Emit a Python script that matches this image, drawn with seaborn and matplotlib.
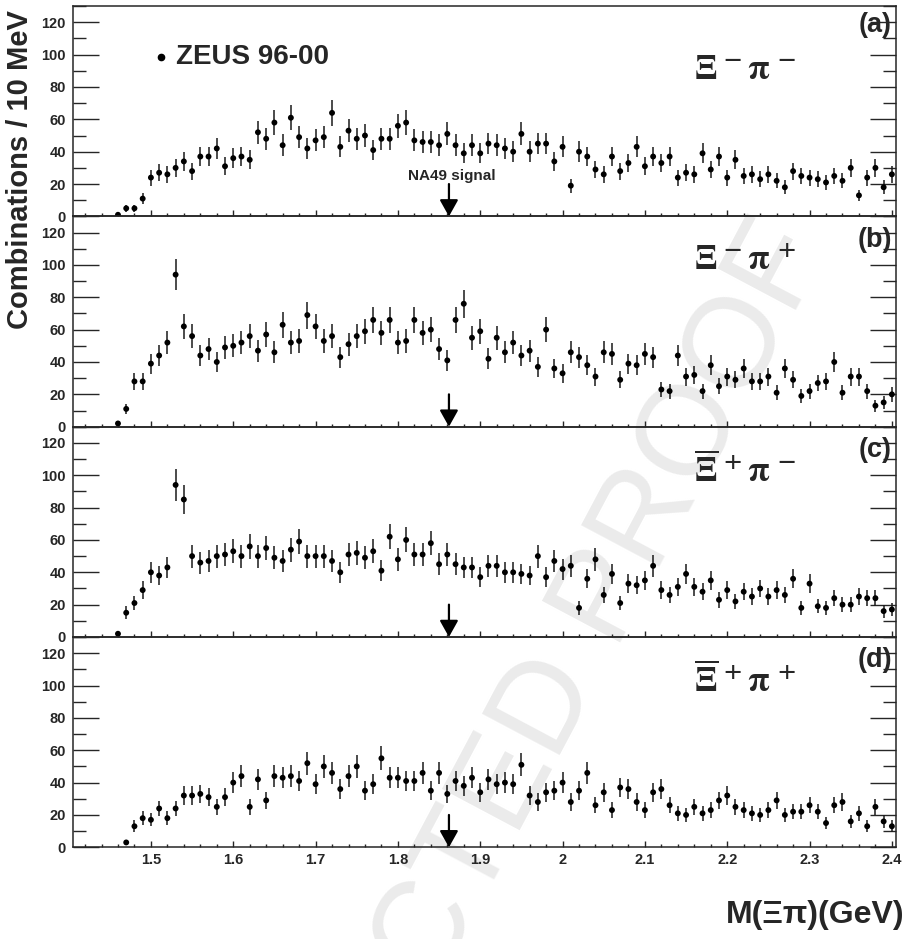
import numpy as np
import pandas as pd
import matplotlib
matplotlib.use("Agg")
import matplotlib.pyplot as plt
import seaborn as sns
from matplotlib.ticker import MultipleLocator, FuncFormatter

# ---------------- data (counts per 10 MeV bin, bin centres 1.46 ... 2.40 GeV) -------------
mass = np.round(np.arange(146, 241) / 100.0, 2)

counts_a = [1, 5, 5, 11, 24, 27, 26, 30, 34, 28, 37, 37, 42, 31, 36, 37, 35, 52, 48, 58,
            44, 61, 49, 42, 47, 49, 64, 43, 53,
            48, 50, 41, 48, 48, 56, 58, 47, 46, 46, 44, 51, 44, 39, 44, 39, 45, 44, 42, 40,
            51, 40, 45, 45, 34, 43, 19, 40, 37, 29, 26, 37, 28, 33,
            43, 31, 37, 33, 37, 24, 27, 26, 39, 29, 37, 24, 35, 25, 26, 23, 26, 22, 18, 28,
            25, 24, 23, 21, 25, 22, 30, 13, 24, 30, 18, 26]

counts_b = [2, 11, 28, 28, 39, 44, 52, 94, 62, 56, 44, 48, 40, 49, 50, 52, 56, 47, 57, 46,
            63, 52, 53, 69, 62, 53, 56, 43, 51,
            56, 59, 66, 58, 66, 52, 53, 66, 58, 60, 48, 41, 66, 76, 55, 59, 42, 55, 46, 52,
            44, 47, 37, 60, 36, 33, 46, 43, 38, 31, 46, 45, 29, 39,
            38, 45, 43, 23, 22, 44, 31, 32, 22, 38, 25, 31, 29, 36, 28, 28, 31, 21, 36, 29,
            19, 22, 27, 28, 40, 21, 31, 31, 22, 13, 15, 20]

counts_c = [2, 15, 21, 29, 40, 38, 43, 94, 85, 50, 46, 47, 50, 51, 53, 50, 56, 50, 55, 49,
            47, 54, 59, 50, 50, 50, 47, 40, 51,
            52, 49, 53, 41, 62, 48, 60, 51, 51, 58, 45, 51, 45, 43, 43, 37, 44, 44, 40, 40,
            39, 38, 50, 37, 47, 42, 44, 18, 36, 48, 26, 39, 21, 33,
            32, 35, 44, 29, 26, 31, 39, 31, 28, 35, 23, 29, 22, 28, 25, 30, 25, 29, 26, 36,
            18, 33, 19, 18, 24, 20, 20, 25, 24, 24, 16, 17]

counts_d = [np.nan, 3, 13, 18, 17, 24, 18, 24, 32, 32, 33, 31, 25, 31, 40, 44, 25, 42, 29, 44,
            43, 44, 41, 52, 39, 50, 46, 36, 44,
            50, 35, 39, 55, 43, 43, 41, 41, 46, 35, 46, 33, 41, 38, 43, 34, 42, 39, 40, 39,
            51, 32, 28, 34, 35, 40, 28, 35, 46, 26, 34, 23, 37, 36,
            28, 23, 34, 36, 26, 21, 20, 25, 21, 23, 29, 32, 25, 23, 21, 20, 23, 29, 20, 22,
            22, 26, 22, 15, 26, 28, 16, 21, 13, 25, 16, 13]

panel_tags = ["(a)", "(b)", "(c)", "(d)"]
channel_labels = [r"$\mathbf{\Xi}^{\,-}\mathrm{\pi}^{\,-}$",
                  r"$\mathbf{\Xi}^{\,-}\mathrm{\pi}^{\,+}$",
                  r"$\overline{\mathbf{\Xi}}^{\,+}\mathrm{\pi}^{\,-}$",
                  r"$\overline{\mathbf{\Xi}}^{\,+}\mathrm{\pi}^{\,+}$"]
na49_mass = 1.862
x_ticklabels_fmt = "{:g}"

# ---------------- style ----------------
sns.set_style("white")
plt.rcParams["font.family"] = ["Liberation Sans", "DejaVu Sans"]
plt.rcParams["font.weight"] = "bold"
plt.rcParams["mathtext.fontset"] = "stix"
plt.rcParams["axes.linewidth"] = 1.1

W, H = 908, 939
fig = plt.figure(figsize=(W / 100, H / 100), dpi=100)

# watermark (behind the axes)
fig.text(800 / W, 1 - 235 / H, "CORRECTED PROOF", rotation=62, rotation_mode="anchor",
         ha="right", va="center", fontsize=92, color="#ebebeb", fontweight="normal",
         zorder=-1)

left, right = 72.7 / W, 896 / W
bottom0 = (H - 847.3) / H
ph = 210.3 / H

all_counts = [counts_a, counts_b, counts_c, counts_d]
axes = []
for i, cnt in enumerate(all_counts):
    ax = fig.add_axes([left, bottom0 + (3 - i) * ph, right - left, ph])
    ax.patch.set_alpha(0)
    df = pd.DataFrame({"mass": mass, "count": np.array(cnt, dtype=float)})
    df = df.dropna()
    ax.errorbar(df["mass"], df["count"], yerr=np.sqrt(df["count"]), fmt="none",
                ecolor="#1a1a1a", elinewidth=1.1, capsize=0, zorder=2)
    sns.scatterplot(data=df, x="mass", y="count", ax=ax, color="black", s=18,
                    edgecolor="none", linewidth=0, zorder=3, legend=False)
    ax.set_xlim(1.405, 2.405)
    ax.set_ylim(0, 130)
    ax.set_xlabel("")
    ax.set_ylabel("")
    ax.xaxis.set_major_locator(MultipleLocator(0.1))
    ax.xaxis.set_minor_locator(MultipleLocator(0.02))
    ax.yaxis.set_major_locator(MultipleLocator(20))
    ax.yaxis.set_minor_locator(MultipleLocator(10))
    ax.tick_params(axis="y", which="major", direction="in", left=True, right=True,
                   length=18.5, width=1.0, labelsize=10.5, pad=5)
    ax.tick_params(axis="y", which="minor", direction="in", left=True, right=True,
                   length=9.3, width=1.0)
    ax.tick_params(axis="x", which="major", direction="in", bottom=True, top=False,
                   length=4.5, width=1.0, labelsize=10.5, pad=4)
    ax.tick_params(axis="x", which="minor", direction="in", bottom=True, top=False,
                   length=2.5, width=1.0)
    for lab in ax.get_yticklabels():
        lab.set_fontweight("bold")
    ax.xaxis.set_major_formatter(FuncFormatter(lambda v, p: x_ticklabels_fmt.format(round(v, 2))))
    if i < 3:
        ax.tick_params(axis="x", labelbottom=False)
    else:
        for lab in ax.get_xticklabels():
            lab.set_fontweight("bold")

    # panel tag
    ax.text(0.995, 0.91 if i == 0 else 0.89, panel_tags[i], transform=ax.transAxes,
            ha="right", va="center", fontsize=19.5, fontweight="bold")
    # channel label
    ax.text(0.755, 0.70 if i == 0 else 0.79, channel_labels[i], transform=ax.transAxes,
            ha="left", va="center", fontsize=25, fontweight="normal")
    # NA49 arrow
    ax.annotate("", xy=(na49_mass, 0), xytext=(na49_mass, 20),
                arrowprops=dict(arrowstyle="-|>,head_length=0.5,head_width=0.28",
                                color="black", lw=1.6, mutation_scale=20,
                                shrinkA=0, shrinkB=0), zorder=4)
    axes.append(ax)

axes[0].text(na49_mass + 0.003, 20.5, "NA49 signal", ha="center", va="bottom",
             fontsize=11, fontweight="bold")
axes[0].plot([0.107], [0.76], marker="o", color="black", markersize=4.5,
             transform=axes[0].transAxes, linestyle="none")
axes[0].text(0.1255, 0.76, "ZEUS 96-00", transform=axes[0].transAxes, ha="left",
             va="center", fontsize=20, fontweight="bold")

fig.text(20 / W, 1 - 10 / H, "Combinations / 10 MeV", rotation=90, ha="center", va="top",
         fontsize=21, fontweight="bold")
fig.text(905 / W, 1 - 915 / H, "M(Ξπ)(GeV)", ha="right", va="center", fontsize=23,
         fontweight="bold")

fig.savefig("out.png", dpi=100)
